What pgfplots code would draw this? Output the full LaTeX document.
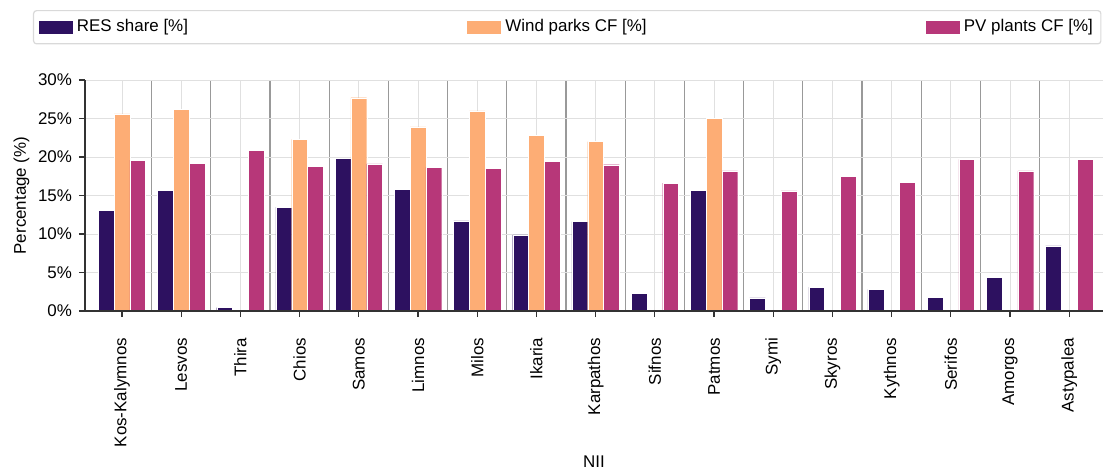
\documentclass[border=0pt]{standalone}
\usepackage{pgfplots}
\pgfplotsset{compat=1.18}
\usepackage{fontspec}
\setmainfont{Liberation Sans}
\definecolor{resc}{HTML}{2D1160}
\definecolor{windc}{HTML}{FDAD75}
\definecolor{pvc}{HTML}{B73779}
\begin{document}
\begin{tikzpicture}
\begin{axis}[
  at={(0,0)}, anchor=south west,
  scale only axis, width=509bp, height=115.5bp,
  xmin=-0.625, xmax=16.57, ymin=0, ymax=30,
  axis x line=bottom, axis y line=left,
  axis line style={-, black!80, line width=0.6pt},
  ybar, bar width=0.2667,
  ytick={0,5,...,30},
  yticklabel={\pgfmathprintnumber{\tick}\%},
  xtick={0,...,16},
  xticklabels={Kos-Kalymnos,Lesvos,Thira,Chios,Samos,Limnos,Milos,Ikaria,Karpathos,Sifnos,Patmos,Symi,Skyros,Kythnos,Serifos,Amorgos,Astypalea},
  x tick label style={rotate=90, anchor=east},
  xticklabel shift=7bp,
  minor xtick={0.5,1.5,...,15.5},
  ymajorgrids, xmajorgrids, xminorgrids,
  major grid style={black!12, line width=0.5pt},
  minor grid style={black!40, line width=0.6pt},
  major tick length=3bp, minor tick length=0pt,
  tick align=outside,
  tick style={black!80, line width=0.6pt},
  font=\fontsize{8.5}{10}\selectfont,
  /pgf/number format/assume math mode=true,
  ylabel={Percentage (\%)}, xlabel={NII},
  ylabel style={at={(axis description cs:-0.0625,0.5)}, anchor=center, rotate=0},
  xlabel style={at={(axis description cs:0.5,-0.654)}, anchor=center},
  legend columns=3,
  legend cell align=left,
  legend style={at={(-0.0511,1.303)}, anchor=north west, draw=black!15, line width=0.6pt, rounded corners=1.5bp,
    font=\fontsize{8.5}{10}\selectfont, inner xsep=2bp, inner ysep=2.5bp,
    /tikz/every even column/.append style={column sep=137bp}},
  legend image code/.code={\fill[#1, sharp corners] (0bp,-3.4bp) rectangle (17.5bp,3.4bp);},
  every axis plot/.append style={draw=white, line width=0.2pt},
]
\addplot[fill=resc, bar shift=-0.2667] coordinates {
(0,13.1) (1,15.7) (2,0.45) (3,13.5) (4,19.8) (5,15.8) (6,11.7) (7,9.9) (8,11.6)
(9,2.3) (10,15.7) (11,1.7) (12,3.1) (13,2.8) (14,1.8) (15,4.4) (16,8.45)};
\addlegendentry{RES share [\%]}
\addplot[fill=windc, bar shift=0] coordinates {
(0,25.6) (1,26.2) (3,22.3) (4,27.7) (5,23.9) (6,26.0) (7,22.8) (8,22.0) (10,25.0)};
\addlegendentry{Wind parks CF [\%]}
\addplot[fill=pvc, bar shift=0.2667] coordinates {
(0,19.6) (1,19.2) (2,20.9) (3,18.8) (4,19.1) (5,18.7) (6,18.5) (7,19.4) (8,19.0)
(9,16.6) (10,18.2) (11,15.6) (12,17.5) (13,16.7) (14,19.7) (15,18.2) (16,19.7)};
\addlegendentry{PV plants CF [\%]}
\draw[black!80, line width=0.6pt] (axis cs:-0.625,0) -- (axis cs:16.57,0);
\end{axis}
\pgfresetboundingbox
\path (-42.5bp,-80bp) rectangle (509bp,155.5bp);
\end{tikzpicture}
\end{document}
